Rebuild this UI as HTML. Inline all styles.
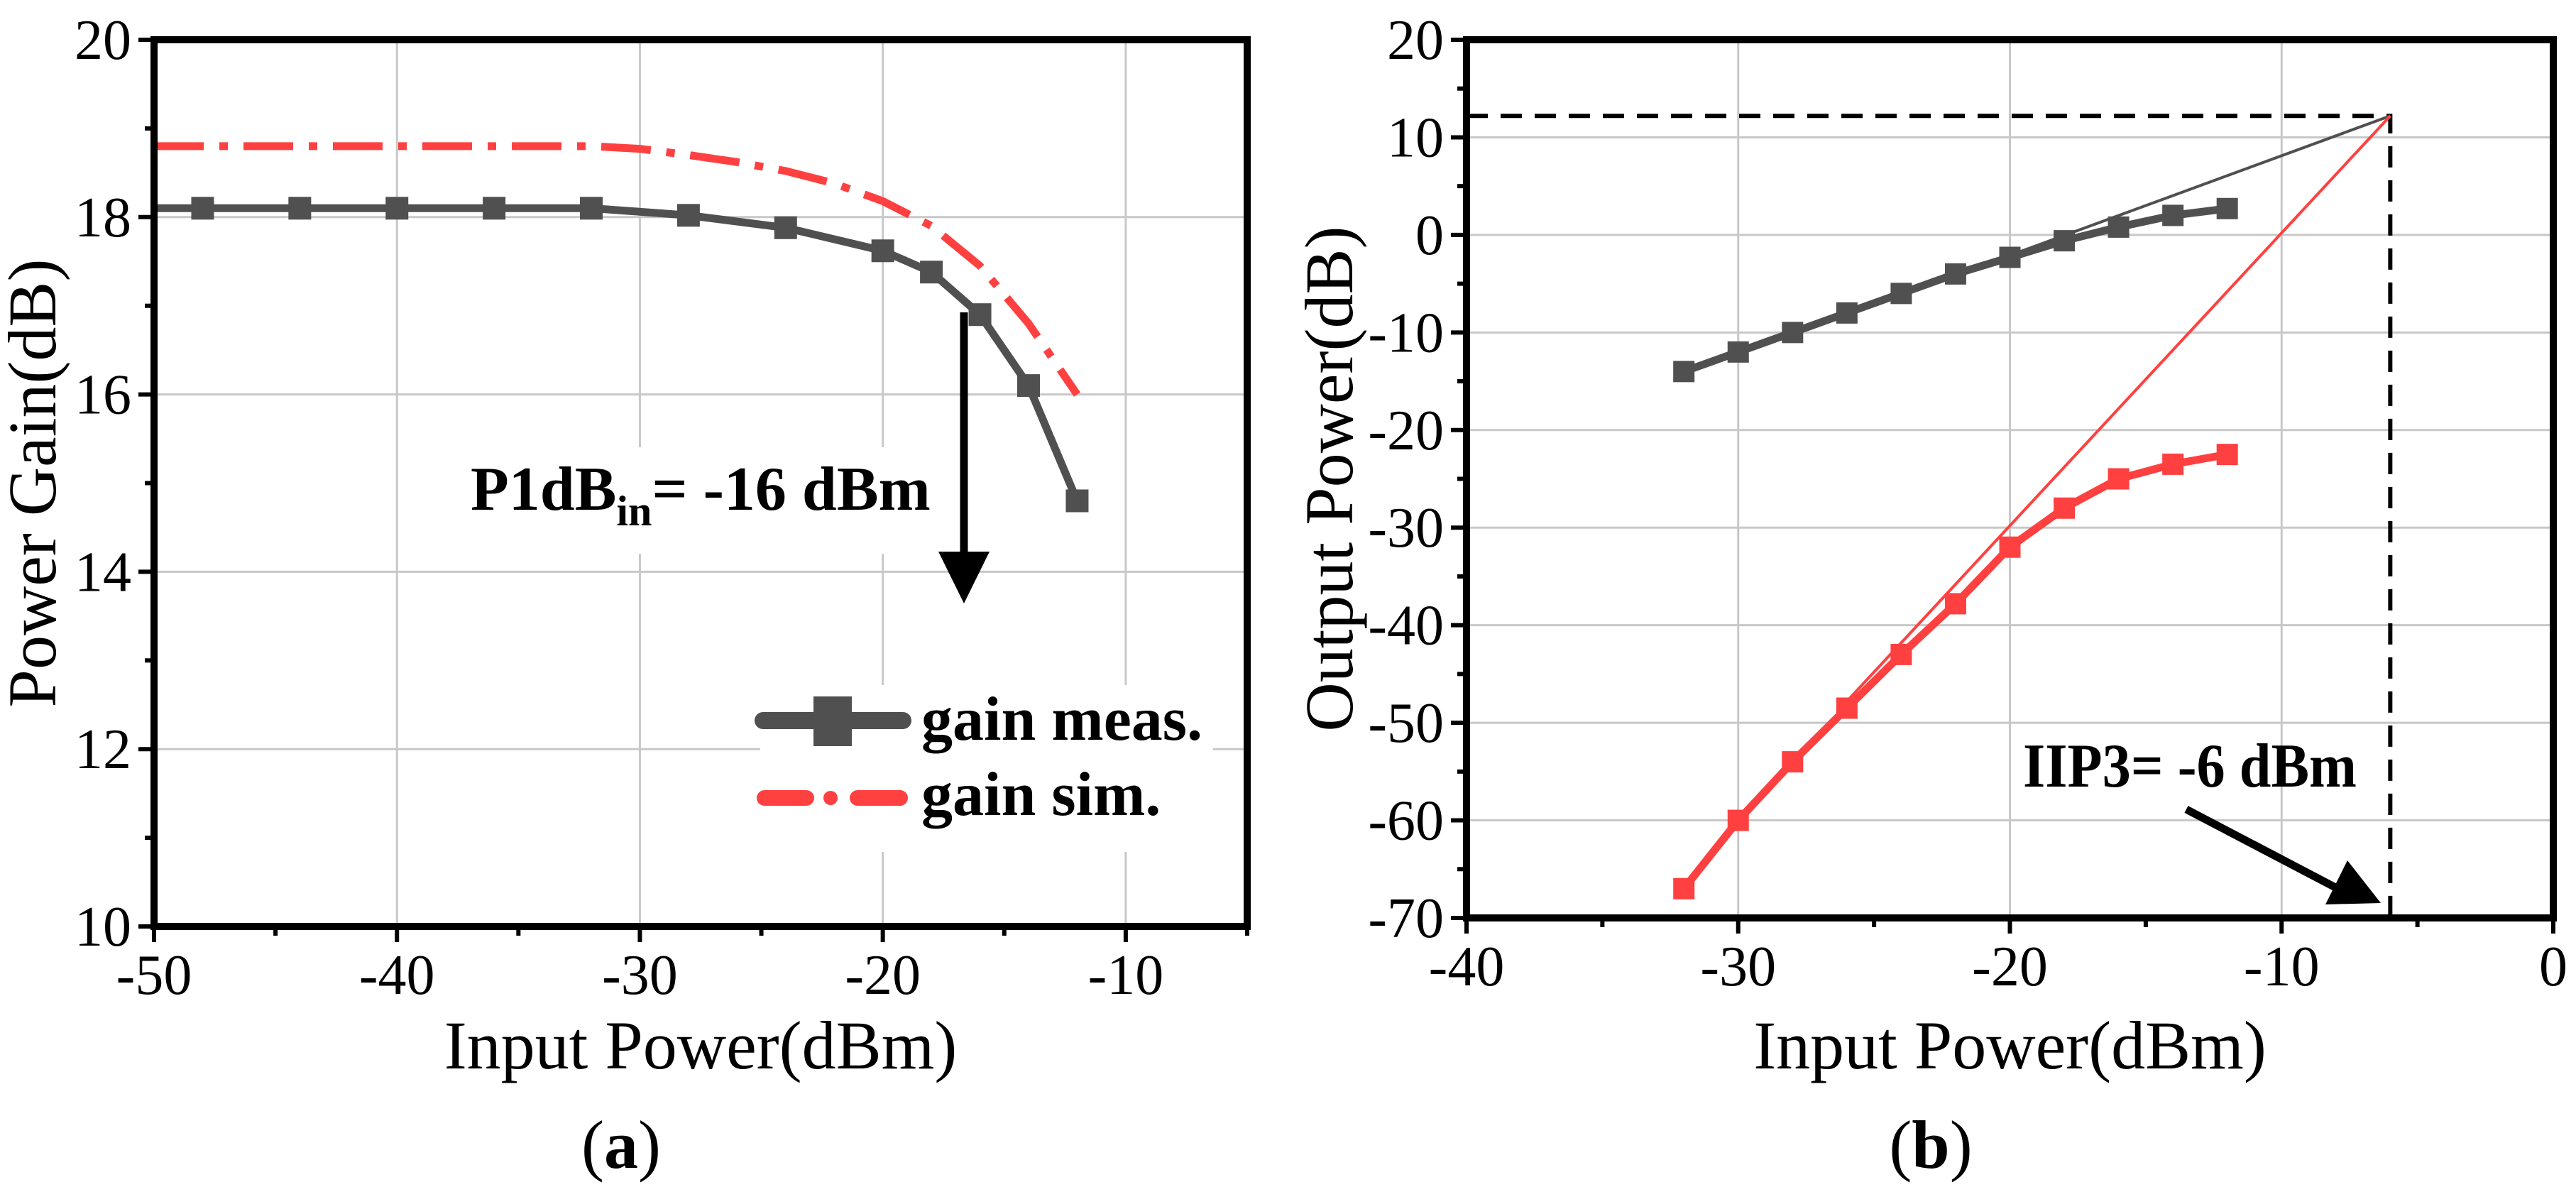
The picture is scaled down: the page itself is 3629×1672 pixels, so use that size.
<!DOCTYPE html>
<html><head><meta charset="utf-8"><style>
html,body{margin:0;padding:0;background:#fff}
svg{display:block}
text{font-family:"Liberation Serif","DejaVu Serif",serif}
</style></head><body>
<svg id="fig" width="3629" height="1672" viewBox="0 0 3629 1672" xmlns="http://www.w3.org/2000/svg" font-family="Liberation Serif, DejaVu Serif, serif"></svg>
<script>
// Panel (a) data
const aMeasX = [-48,-44,-40,-36,-32,-28,-24,-20,-18,-16,-14,-12];
const aMeasY = [18.1,18.1,18.1,18.1,18.1,18.02,17.88,17.62,17.38,16.9,16.1,14.8];
const aSimX = [-50,-45,-40,-35,-32,-30,-28,-26,-24,-22,-20,-18,-16,-14,-12];
const aSimY = [18.8,18.8,18.8,18.8,18.8,18.77,18.7,18.62,18.52,18.38,18.18,17.9,17.45,16.8,16.0];
const aXTicks = [-50,-40,-30,-20,-10];
const aYTicks = [10,12,14,16,18,20];
// Panel (b) data
const bX = [-32,-30,-28,-26,-24,-22,-20,-18,-16,-14,-12];
const bFund = [-14,-12,-10,-8,-6,-4,-2.3,-0.6,0.8,2,2.7];
const bIM3 = [-67,-60,-54,-48.5,-43,-37.8,-32,-28,-25,-23.5,-22.5];
const bXTicks = [-40,-30,-20,-10,0];
const bYTicks = [-70,-60,-50,-40,-30,-20,-10,0,10,20];
const iip3X = -6, iip3Y = 12.2;

const NS="http://www.w3.org/2000/svg";
const svg=document.getElementById('fig');
function el(tag,attrs,parent,txt){const e=document.createElementNS(NS,tag);for(const k in attrs)e.setAttribute(k,attrs[k]);if(txt!==undefined)e.textContent=txt;(parent||svg).appendChild(e);return e;}

const A={x0:217,x1:1757,y0:56,y1:1305,xmin:-50,xmax:-5,ymin:10,ymax:20};
const B={x0:2066,x1:3597,y0:56,y1:1293,xmin:-40,xmax:0,ymin:-70,ymax:20};
function sx(P,v){return P.x0+(v-P.xmin)/(P.xmax-P.xmin)*(P.x1-P.x0);}
function sy(P,v){return P.y1-(v-P.ymin)/(P.ymax-P.ymin)*(P.y1-P.y0);}

function axes(P,xt,yt,xstep,ystep,name){
  const g=el('g',{});
  
  
  for(const v of xt){if(v>P.xmin&&v<P.xmax){const l=el('line',{x1:sx(P,v),x2:sx(P,v),y1:P.y0,y2:P.y1,stroke:'#c8c8c8','stroke-width':3},g);
    
    }}
  for(const v of yt){if(v>P.ymin&&v<P.ymax){const l=el('line',{x1:P.x0,x2:P.x1,y1:sy(P,v),y2:sy(P,v),stroke:'#c8c8c8','stroke-width':3},g);
    
    }}
  for(let v=P.xmin;v<=P.xmax+1e-9;v+=xstep/2){const major=Math.abs(Math.round(v/xstep)*xstep-v)<1e-6;
    el('line',{x1:sx(P,v),x2:sx(P,v),y1:P.y1,y2:P.y1+(major?22:13),stroke:'#000','stroke-width':6},g);}
  for(let v=P.ymin;v<=P.ymax+1e-9;v+=ystep/2){const major=Math.abs(Math.round(v/ystep)*ystep-v)<1e-6;
    el('line',{x1:P.x0,x2:P.x0-(major?22:13),y1:sy(P,v),y2:sy(P,v),stroke:'#000','stroke-width':6},g);}
  for(const v of xt){const t=el('text',{x:sx(P,v),y:P.y1+95,'font-size':80,'text-anchor':'middle'},g,String(v));
    
    }
  for(const v of yt){const t=el('text',{x:P.x0-32,y:sy(P,v)+27,'font-size':80,'text-anchor':'end'},g,String(v));
    
    }
  return g;
}
function frame(P,name){const r=el('rect',{x:P.x0,y:P.y0,width:P.x1-P.x0,height:P.y1-P.y0,fill:'none',stroke:'#000','stroke-width':10});
  
  }
function pts(P,xs,ys){return xs.map((x,i)=>sx(P,x)+','+sy(P,ys[i])).join(' ');}
function markers(P,xs,ys,color,size,name){xs.forEach((x,i)=>{const r=el('rect',{x:sx(P,x)-size/2,y:sy(P,ys[i])-size/2,width:size,height:size,fill:color});
  
  });}

// ---------- Panel (a)
axes(A,aXTicks,aYTicks,10,2,'gain-chart');
let l=el('polyline',{points:pts(A,aSimX,aSimY),fill:'none',stroke:'#ff4040','stroke-width':11,'stroke-dasharray':'70 22 12 22'});


l=el('polyline',{points:sx(A,A.xmin)+','+sy(A,aMeasY[0])+' '+pts(A,aMeasX,aMeasY),fill:'none',stroke:'#505050','stroke-width':11,'stroke-linejoin':'round'});


markers(A,aMeasX,aMeasY,'#505050',32,'gain-meas-marker');
el('rect',{x:660,y:630,width:670,height:150,fill:'#fff'});
let t=el('text',{x:663,y:718,'font-size':88,'font-weight':'bold'});


t.innerHTML='P1dB<tspan font-size="60" dy="22">in</tspan><tspan dy="-22">= -16 dBm</tspan>';
let ar=el('g',{});


el('line',{x1:1358,y1:440,x2:1358,y2:790,stroke:'#000','stroke-width':11},ar);
el('polygon',{points:'1322,777 1394,777 1358,850',fill:'#000'},ar);
let lg=el('g',{});


el('rect',{x:1071,y:965,width:638,height:235,fill:'#fff'},lg);
el('line',{x1:1075,y1:1015,x2:1272,y2:1015,stroke:'#505050','stroke-width':24,'stroke-linecap':'round'},lg);
el('rect',{x:1146,y:981,width:54,height:70,fill:'#505050'},lg);
el('text',{x:1298,y:1042,'font-size':88,'font-weight':'bold'},lg,'gain meas.');
el('line',{x1:1077,y1:1124,x2:1136,y2:1124,stroke:'#ff4040','stroke-width':22,'stroke-linecap':'round'},lg);
el('circle',{cx:1170,cy:1124,r:10,fill:'#ff4040'},lg);
el('line',{x1:1208,y1:1124,x2:1268,y2:1124,stroke:'#ff4040','stroke-width':22,'stroke-linecap':'round'},lg);
el('text',{x:1298,y:1148,'font-size':88,'font-weight':'bold'},lg,'gain sim.');
frame(A,'gain-chart');
t=el('text',{x:(A.x0+A.x1)/2,y:1505,'font-size':96,'text-anchor':'middle'},svg,'Input Power(dBm)');


t=el('text',{x:0,y:0,'font-size':96,'text-anchor':'middle',transform:'translate(78,'+((A.y0+A.y1)/2)+') rotate(-90)'},svg,'Power Gain(dB)');


t=el('text',{x:875,y:1645,'font-size':96,'text-anchor':'middle'});


t.innerHTML='(<tspan font-weight="bold">a</tspan>)';

// ---------- Panel (b)
axes(B,bXTicks,bYTicks,10,10,'output-chart');
let d=el('polyline',{points:sx(B,B.xmin)+','+sy(B,iip3Y)+' '+sx(B,iip3X)+','+sy(B,iip3Y)+' '+sx(B,iip3X)+','+B.y1,fill:'none',stroke:'#000','stroke-width':6,'stroke-dasharray':'30 18'});


l=el('line',{x1:sx(B,-20),y1:sy(B,-2.1),x2:sx(B,iip3X),y2:sy(B,iip3Y),stroke:'#505050','stroke-width':4});


l=el('line',{x1:sx(B,-26),y1:sy(B,iip3Y-60),x2:sx(B,iip3X),y2:sy(B,iip3Y),stroke:'#ff4040','stroke-width':4});


l=el('polyline',{points:pts(B,bX,bFund),fill:'none',stroke:'#505050','stroke-width':11,'stroke-linejoin':'round'});


markers(B,bX,bFund,'#505050',30,'fundamental-marker');
l=el('polyline',{points:pts(B,bX,bIM3),fill:'none',stroke:'#ff4040','stroke-width':11,'stroke-linejoin':'round'});


markers(B,bX,bIM3,'#ff4040',30,'im3-marker');
t=el('text',{x:2850,y:1108,'font-size':88,'font-weight':'bold','textLength':470,'lengthAdjust':'spacingAndGlyphs'},svg,'IIP3= -6 dBm');


ar=el('g',{});


el('line',{x1:3080,y1:1140,x2:3290,y2:1250,stroke:'#000','stroke-width':11},ar);
el('polygon',{points:'3307,1212 3276,1274 3354,1272',fill:'#000'},ar);
frame(B,'output-chart');
t=el('text',{x:(B.x0+B.x1)/2,y:1505,'font-size':96,'text-anchor':'middle'},svg,'Input Power(dBm)');


t=el('text',{x:0,y:0,'font-size':96,'text-anchor':'middle',transform:'translate(1905,'+((B.y0+B.y1)/2)+') rotate(-90)'},svg,'Output Power(dB)');


t=el('text',{x:2720,y:1645,'font-size':96,'text-anchor':'middle'});


t.innerHTML='(<tspan font-weight="bold">b</tspan>)';
</script>
</body></html>
